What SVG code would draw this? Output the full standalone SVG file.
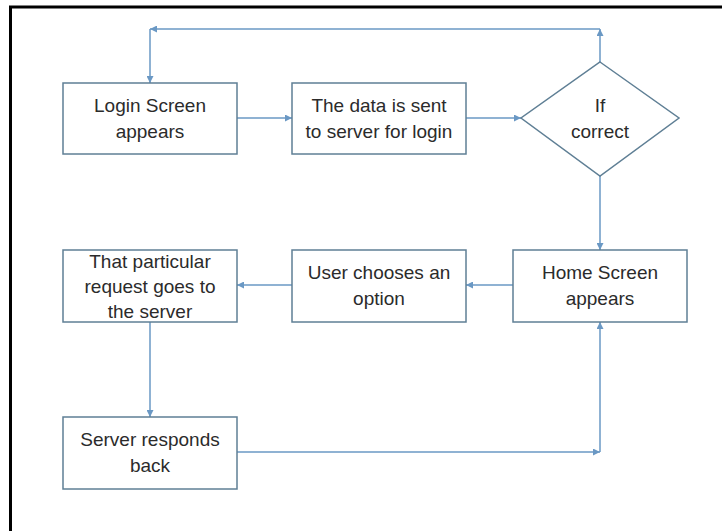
<svg xmlns="http://www.w3.org/2000/svg" width="722" height="531" viewBox="0 0 722 531">
<style>
.box{fill:#fff;stroke:#5f7f95;stroke-width:1.5}
.lbl{font-family:"Liberation Sans",Arial,sans-serif;font-size:19px;fill:#2b2b2b;text-anchor:middle}
.con{fill:none;stroke:#6a98c4;stroke-width:1.5;marker-end:url(#ah)}
</style>
<defs>
<marker id="ah" markerUnits="userSpaceOnUse" markerWidth="8" markerHeight="7" refX="7" refY="3.5" orient="auto">
<path d="M0,0 L7,3.5 L0,7 z" fill="#6a98c4"/>
</marker>
</defs>
<rect width="722" height="531" fill="#fff"/>
<path d="M10.5,540 V7 H730" fill="none" stroke="#000" stroke-width="3"/>
<g id="connectors">
<line class="con" x1="600" y1="62" x2="600" y2="29"/>
<line class="con" x1="600" y1="29" x2="150" y2="29"/>
<line class="con" x1="150" y1="29" x2="150" y2="83"/>
<line class="con" x1="237" y1="118" x2="292" y2="118"/>
<line class="con" x1="466" y1="118" x2="521" y2="118"/>
<line class="con" x1="600" y1="176" x2="600" y2="250"/>
<line class="con" x1="513" y1="285" x2="466" y2="285"/>
<line class="con" x1="292" y1="285" x2="237" y2="285"/>
<line class="con" x1="150" y1="322" x2="150" y2="417"/>
<line class="con" x1="237" y1="452" x2="600" y2="452"/>
<line class="con" x1="600" y1="452" x2="600" y2="322"/>
</g>
<g id="login">
<rect class="box" x="63" y="83" width="174" height="71"/>
<text class="lbl" x="150" y="112">Login Screen</text>
<text class="lbl" x="150" y="138">appears</text>
</g>
<g id="send">
<rect class="box" x="292" y="83" width="174" height="71"/>
<text class="lbl" x="379" y="112">The data is sent</text>
<text class="lbl" x="379" y="138">to server for login</text>
</g>
<g id="decision">
<polygon class="box" points="600,62 679,118 600,176 521,118"/>
<text class="lbl" x="600" y="112">If</text>
<text class="lbl" x="600" y="138">correct</text>
</g>
<g id="home">
<rect class="box" x="513" y="250" width="174" height="72"/>
<text class="lbl" x="600" y="279">Home Screen</text>
<text class="lbl" x="600" y="305">appears</text>
</g>
<g id="choose">
<rect class="box" x="292" y="250" width="174" height="72"/>
<text class="lbl" x="379" y="279">User chooses an</text>
<text class="lbl" x="379" y="305">option</text>
</g>
<g id="request">
<rect class="box" x="63" y="250" width="174" height="72"/>
<text class="lbl" x="150" y="268">That particular</text>
<text class="lbl" x="150" y="293">request goes to</text>
<text class="lbl" x="150" y="318">the server</text>
</g>
<g id="respond">
<rect class="box" x="63" y="417" width="174" height="72"/>
<text class="lbl" x="150" y="446">Server responds</text>
<text class="lbl" x="150" y="472">back</text>
</g>
</svg>
